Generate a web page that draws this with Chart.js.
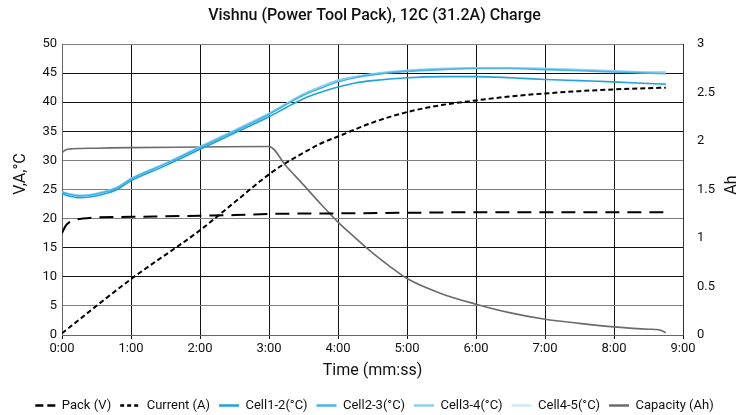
<!DOCTYPE html>
<html><head><meta charset="utf-8">
<script src="https://cdn.jsdelivr.net/npm/chart.js@4"></script>
<style>html,body{margin:0;padding:0;background:#fff}canvas{display:block}</style>
</head><body>
<canvas id="c" width="749" height="415"></canvas>
<script>
const FONT = 'Roboto';
const titleText = 'Vishnu (Power Tool Pack), 12C (31.2A) Charge';
const xTickLabels = ['0:00','1:00','2:00','3:00','4:00','5:00','6:00','7:00','8:00','9:00'];
const leftTitle = 'V,A,°C';
const rightTitle = 'Ah';

const packTime = [0, 0.05, 0.1, 0.2, 0.3, 0.5, 1, 1.5, 2, 2.5, 3, 4, 5, 6, 7, 8, 8.75];
const packV    = [17.5, 18.7, 19.3, 19.8, 20.0, 20.2, 20.3, 20.4, 20.5, 20.6, 20.8, 20.9, 21.0, 21.1, 21.1, 21.1, 21.1];

const currentTime = [0, 1, 2, 2.5, 3, 3.25, 3.5, 3.75, 4, 4.5, 5, 5.5, 6, 6.5, 7, 7.5, 8, 8.75];
const currentA    = [0.3, 9.6, 18.0, 22.8, 27.6, 29.6, 31.3, 32.9, 34.1, 36.5, 38.3, 39.5, 40.3, 41.0, 41.5, 41.9, 42.2, 42.5];

const cellTime = [0, 0.1, 0.25, 0.4, 0.6, 0.8, 1, 1.5, 2, 2.5, 3, 3.25, 3.5, 3.75, 4, 4.25, 4.5, 5, 5.5, 6, 6.5, 7, 7.5, 8, 8.5, 8.75];
const cell12 = [24.3, 23.9, 23.6, 23.7, 24.2, 25.0, 26.5, 29.1, 31.9, 34.7, 37.5, 39.1, 40.6, 41.7, 42.6, 43.3, 43.7, 44.2, 44.4, 44.4, 44.2, 43.9, 43.7, 43.5, 43.2, 43.1];
const cell23 = [24.6, 24.2, 23.9, 24.0, 24.5, 25.3, 26.8, 29.4, 32.2, 35.0, 37.9, 39.6, 41.2, 42.4, 43.5, 44.2, 44.7, 45.3, 45.6, 45.8, 45.8, 45.6, 45.4, 45.2, 45.0, 44.9];
const cell34 = [24.6, 24.3, 24.0, 24.1, 24.6, 25.4, 26.9, 29.5, 32.4, 35.2, 38.1, 39.8, 41.4, 42.7, 43.8, 44.4, 44.9, 45.5, 45.8, 45.9, 45.9, 45.8, 45.6, 45.4, 45.2, 45.2];
const cell45 = [24.5, 24.2, 24.0, 24.1, 24.6, 25.4, 26.9, 29.5, 32.3, 35.1, 38.0, 39.7, 41.3, 42.6, 43.7, 44.3, 44.8, 45.4, 45.7, 45.9, 45.9, 45.8, 45.6, 45.3, 45.1, 45.1];

const capTime = [0, 0.05, 0.15, 0.5, 1, 2, 3, 3.25, 3.5, 3.75, 4, 4.25, 4.5, 4.75, 5, 5.5, 6, 6.5, 7, 7.5, 8, 8.5, 8.65, 8.75];
const capVal  = [31.3, 31.8, 32.0, 32.1, 32.2, 32.3, 32.4, 29.0, 25.8, 22.5, 19.4, 16.7, 14.1, 11.8, 9.7, 7.1, 5.3, 3.8, 2.7, 2.0, 1.4, 1.0, 0.9, 0.4];

const toXY = (t, v) => t.map((x, i) => ({x: x, y: v[i]}));

function lineDs(label, t, v, color, width, dash) {
  return {
    label: label, data: toXY(t, v), borderColor: color, backgroundColor: color,
    borderWidth: width, borderDash: dash || [], pointRadius: 0, pointHoverRadius: 0,
    cubicInterpolationMode: 'monotone', fill: false, yAxisID: 'y'
  };
}

const datasets = [
  lineDs('Pack (V)', packTime, packV, '#000000', 2, [14, 8]),
  lineDs('Current (A)', currentTime, currentA, '#000000', 2, [5, 3]),
  lineDs('Cell1-2(°C)', cellTime, cell12, '#1ea3dc', 1.6),
  lineDs('Cell2-3(°C)', cellTime, cell23, '#48b4e5', 1.6),
  lineDs('Cell3-4(°C)', cellTime, cell34, '#8ccfee', 1.6),
  lineDs('Cell4-5(°C)', cellTime, cell45, '#cbe8f6', 1.6),
  lineDs('Capacity (Ah)', capTime, capVal, '#6b6b6b', 1.6)
];

const darkGrid = [10, 15, 35, 40, 45];

const axisTitles = {
  id: 'axisTitles',
  afterDraw(chart) {
    const ctx = chart.ctx;
    [[leftTitle, 21, 174], [rightTitle, 732, 185]].forEach(([txt, x, y]) => {
      ctx.save();
      ctx.fillStyle = '#111';
      ctx.font = '16px ' + FONT;
      ctx.textAlign = 'center';
      ctx.textBaseline = 'middle';
      ctx.translate(x, y);
      ctx.rotate(-Math.PI / 2);
      ctx.fillText(txt, 0, 0);
      ctx.restore();
    });
  }
};

new Chart(document.getElementById('c'), {
  type: 'line',
  data: { datasets: datasets },
  plugins: [axisTitles],
  options: {
    responsive: false, animation: false, devicePixelRatio: 1,
    layout: { padding: { top: 0, left: 0, right: 0, bottom: -7 } },
    plugins: {
      title: { display: true, text: titleText, color: '#111', font: { family: FONT, size: 16, weight: '500' }, padding: { top: 6.4, bottom: 18.4 } },
      legend: {
        position: 'bottom',
        labels: {
          usePointStyle: true, pointStyle: 'line', pointStyleWidth: 20, padding: 9,
          color: '#111', font: { family: FONT, size: 13 },
          generateLabels(chart) {
            const items = Chart.defaults.plugins.legend.labels.generateLabels(chart);
            items.forEach(it => {
              it.lineWidth = 2.5;
              if (it.datasetIndex === 0) it.lineDash = [8, 4];
              else if (it.datasetIndex === 1) it.lineDash = [4, 3];
              else it.lineDash = [];
            });
            return items;
          }
        }
      },
      tooltip: { enabled: false }
    },
    scales: {
      x: {
        type: 'linear', min: 0, max: 9,
        ticks: { stepSize: 1, padding: 2, color: '#111', font: { family: FONT, size: 13 }, callback: v => xTickLabels[v], maxRotation: 0 },
        grid: { color: '#111', lineWidth: 1, tickLength: 4, drawTicks: true },
        border: { color: '#666', width: 1 },
        title: { display: true, text: 'Time (mm:ss)', color: '#111', font: { family: FONT, size: 16 }, padding: { top: 0, bottom: 9 } },
        afterFit: s => { s.height = 55; }
      },
      y: {
        position: 'left', min: 0, max: 50,
        ticks: { stepSize: 5, padding: 5, color: '#111', font: { family: FONT, size: 13 } },
        grid: { drawTicks: false, lineWidth: 1, color: c => darkGrid.includes(c.tick && c.tick.value) ? '#111' : '#808080' },
        border: { color: '#666', width: 1 },
        afterFit: s => { s.width = 62; }
      },
      y1: {
        position: 'right', min: 0, max: 3,
        ticks: { stepSize: 0.5, padding: 14, color: '#111', font: { family: FONT, size: 13 }, callback: v => String(v) },
        grid: { display: false, drawTicks: false },
        border: { color: '#333', width: 1 },
        afterFit: s => { s.width = 66; }
      }
    }
  }
});
</script>
</body></html>
